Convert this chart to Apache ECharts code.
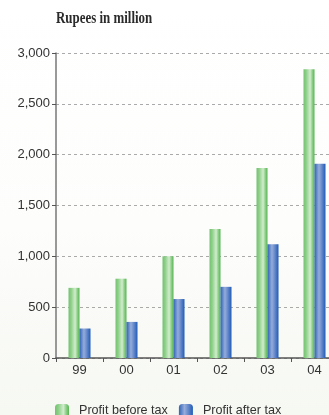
<!DOCTYPE html>
<html>
<head>
<meta charset="utf-8">
<script src="https://cdn.jsdelivr.net/npm/echarts@6/dist/echarts.min.js"></script>
<style>
  html, body { margin: 0; padding: 0; }
  #chart { width: 329px; height: 415px; }
</style>
</head>
<body>
<div id="chart"></div>
<script>
// Fiscal years (two-digit) and profits in Rupees million
const years = ['99', '00', '01', '02', '03', '04'];
const profitBeforeTax = [690, 780, 1000, 1270, 1870, 2840];
const profitAfterTax = [290, 355, 580, 700, 1120, 1910];
const yTicks = { min: 0, max: 3000, interval: 500 };

function barShade(stops) {
  return new echarts.graphic.LinearGradient(0, 0, 1, 0,
    stops.map(([offset, color]) => ({ offset, color })));
}

const greenFill = barShade([[0, '#72c26e'], [0.25, '#8fd08a'], [0.6, '#d2ecce'], [0.8, '#8ccf87'], [1, '#55b552']]);
const blueFill = barShade([[0, '#2f62b6'], [0.4, '#95acdb'], [0.7, '#5f84c8'], [1, '#1e5bb7']]);

const chart = echarts.init(document.getElementById('chart'));
chart.setOption({
  animation: false,
  backgroundColor: new echarts.graphic.LinearGradient(0, 0, 0, 1, [
    { offset: 0, color: '#ffffff' },
    { offset: 0.55, color: '#fdfdfc' },
    { offset: 1, color: '#f6f8f2' }
  ]),
  // Unit caption above the value axis, set in a narrow serif face
  graphic: [{
    type: 'text',
    x: 56,
    y: 10,
    scaleX: 0.76,
    style: {
      text: 'Rupees in million',
      font: 'bold 17px "Liberation Serif"',
      fill: '#2b2b2b'
    }
  }],
  legend: {
    left: 55,
    top: 404,
    padding: 0,
    itemWidth: 14,
    itemHeight: 14,
    itemGap: 11,
    textStyle: { fontFamily: 'Liberation Sans', fontSize: 12.6, color: '#333', padding: [0, 0, 0, 5] },
    data: ['Profit before tax', 'Profit after tax']
  },
  grid: { left: 56, top: 53, width: 282, height: 305, outerBoundsMode: 'none' },
  xAxis: {
    type: 'category',
    data: years,
    axisLine: { lineStyle: { color: '#555', width: 1.5 } },
    axisTick: { show: true, length: 4, lineStyle: { color: '#555' } },
    axisLabel: { margin: 6, fontFamily: 'Liberation Sans', fontSize: 13, color: '#333' }
  },
  yAxis: {
    type: 'value',
    min: yTicks.min,
    max: yTicks.max,
    interval: yTicks.interval,
    axisLine: { show: true, lineStyle: { color: '#777', width: 1.5 } },
    axisTick: { show: true, length: 4, lineStyle: { color: '#555' } },
    axisLabel: {
      margin: 6, fontFamily: 'Liberation Sans', fontSize: 13, color: '#333',
      formatter: v => v.toLocaleString('en-US')
    },
    splitLine: { lineStyle: { color: '#aaa', type: [3, 3] } }
  },
  series: [
    {
      name: 'Profit before tax', type: 'bar', data: profitBeforeTax,
      barWidth: 11, barGap: '0%',
      itemStyle: { color: greenFill }
    },
    {
      name: 'Profit after tax', type: 'bar', data: profitAfterTax,
      barWidth: 11, barGap: '0%',
      itemStyle: { color: blueFill }
    }
  ]
});
</script>
</body>
</html>
